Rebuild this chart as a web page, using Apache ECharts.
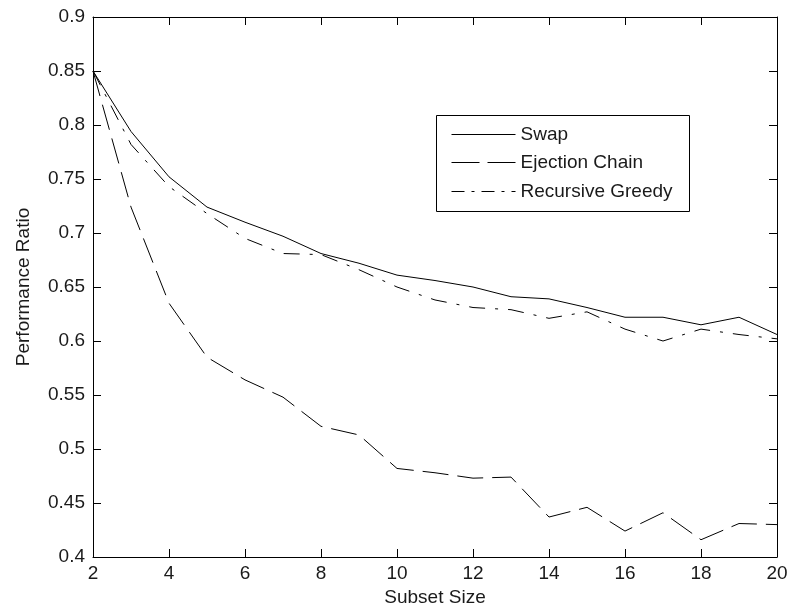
<!DOCTYPE html>
<html>
<head>
<meta charset="utf-8">
<script src="https://cdn.jsdelivr.net/npm/echarts@6/dist/echarts.min.js"></script>
<style>
html,body{margin:0;padding:0;background:#fff;}
#chart{width:791px;height:616px;}
</style>
</head>
<body>
<div id="chart"></div>
<script>
var subsetSizes = [2,3,4,5,6,7,8,9,10,11,12,13,14,15,16,17,18,19,20];
var swapValues = [0.850,0.794,0.752,0.724,0.710,0.697,0.681,0.672,0.661,0.656,0.650,0.641,0.639,0.631,0.622,0.622,0.615,0.622,0.606];
var ejectionValues = [0.850,0.724,0.635,0.585,0.564,0.548,0.521,0.513,0.482,0.478,0.473,0.474,0.437,0.446,0.424,0.441,0.416,0.431,0.430];
var greedyValues = [0.850,0.782,0.743,0.718,0.695,0.681,0.680,0.666,0.650,0.638,0.631,0.629,0.621,0.627,0.611,0.600,0.611,0.606,0.602];
var seriesNames = ['Swap','Ejection Chain','Recursive Greedy'];
var xTitle = 'Subset Size';
var yTitle = 'Performance Ratio';

function pairs(vals){ return subsetSizes.map(function(x,i){ return [x, vals[i]]; }); }

var FONT = "'Liberation Sans', Arial, sans-serif";
var TXT = '#1a1a1a';
var fs = 19;

var chart = echarts.init(document.getElementById('chart'), null, {renderer:'canvas'});

function lineStyle(type){ return {color:'#000', width:1, type:type}; }

var axisCommon = {
  axisLine:{show:true, lineStyle:{color:'#000', width:1}},
  axisTick:{show:true, inside:true, length:8, lineStyle:{color:'#000', width:1}},
  splitLine:{show:false}
};

function legendFor(i, top, dash){
  return {data:[seriesNames[i]], left:451, top:top, orient:'vertical', itemWidth:64, itemHeight:20, padding:0,
    itemStyle:{opacity:0, borderWidth:0},
    lineStyle:{color:'#000', width:1, type:dash},
    textStyle:{fontFamily:FONT, fontSize:fs, color:TXT}};
}

var option = {
  animation:false,
  backgroundColor:'#fff',
  grid:{left:93, right:14, top:17, bottom:59, containLabel:false},
  xAxis:[
    Object.assign({type:'value', min:2, max:20, interval:2, position:'bottom',
      name:xTitle, nameLocation:'middle', nameGap:31,
      nameTextStyle:{fontFamily:FONT, fontSize:fs, color:TXT},
      axisLabel:{show:true, margin:7, fontFamily:FONT, fontSize:fs, color:TXT}}, axisCommon),
    Object.assign({type:'value', min:2, max:20, interval:2, position:'top',
      axisLabel:{show:false}}, axisCommon)
  ],
  yAxis:[
    Object.assign({type:'value', min:0.4, max:0.9, interval:0.05, position:'left',
      name:yTitle, nameLocation:'middle', nameGap:60, nameRotate:90,
      nameTextStyle:{fontFamily:FONT, fontSize:fs, color:TXT},
      axisLabel:{show:true, margin:8, fontFamily:FONT, fontSize:fs, color:TXT,
        formatter:function(v){ return String(parseFloat(v.toFixed(2))); }}}, axisCommon),
    Object.assign({type:'value', min:0.4, max:0.9, interval:0.05, position:'right',
      axisLabel:{show:false}}, axisCommon)
  ],
  legend:[
    legendFor(0, 125, 'solid'),
    legendFor(1, 153, [28,8]),
    legendFor(2, 182, [13,7,3,7])
  ],
  graphic:[
    {type:'rect', left:436, top:115, shape:{width:253, height:96}, z:-1,
      style:{fill:'#fff', stroke:'#000', lineWidth:1}}
  ],
  series:[
    {name:seriesNames[0], type:'line', data:pairs(swapValues), showSymbol:false, symbol:'none',
      lineStyle:lineStyle('solid'), itemStyle:{color:'#000'}},
    {name:seriesNames[1], type:'line', data:pairs(ejectionValues), showSymbol:false, symbol:'none',
      lineStyle:lineStyle([26,9]), itemStyle:{color:'#000'}},
    {name:seriesNames[2], type:'line', data:pairs(greedyValues), showSymbol:false, symbol:'none',
      lineStyle:lineStyle([16,10,3,10]), itemStyle:{color:'#000'}}
  ]
};
chart.setOption(option);
</script>
</body>
</html>
